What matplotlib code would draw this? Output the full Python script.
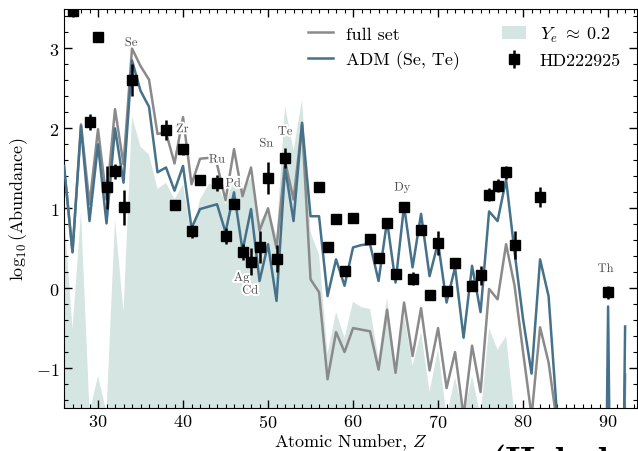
import numpy as np
import matplotlib
matplotlib.use("Agg")
import matplotlib.pyplot as plt
import matplotlib.patheffects as pe
from matplotlib.ticker import MultipleLocator

plt.rcParams['font.family'] = 'serif'
plt.rcParams['font.serif'] = ['cmr10']
plt.rcParams['mathtext.fontset'] = 'cm'
plt.rcParams['axes.formatter.use_mathtext'] = True
plt.rcParams['axes.unicode_minus'] = True

# ---------------- data ----------------
Z = list(range(26, 93))

adm = [1.53, 0.45, 2.03, 0.84, 1.80, 0.81, 2.00, 1.32, 2.85, 2.47,
       2.27, 1.45, 1.51, 1.22, 1.53, 0.75, 0.99, 1.02, 1.05, 0.70,
       1.20, 0.47, 0.99, 0.09, 0.55, -0.16, 1.51, 0.84, 2.07, 0.90,
       0.90, -0.10, 0.36, 0.03, 0.51, 0.54, 0.55, 0.09, 0.84, 0.07,
       1.03, 0.26, 0.93, 0.15, 0.57, -0.18, 0.26, -0.62, 0.28, -0.30,
       0.96, 0.84, 1.36, 0.45, -0.39, -1.07, 0.36, -0.10, -1.60, -10.0,
       -10.0, -10.0, -10.0, -10.0, -0.23, -10.0, -0.48]

full_set = [1.53, 0.45, 2.05, 1.05, 1.99, 1.11, 2.24, 1.55, 3.00, 2.78,
            2.61, 1.93, 1.95, 1.56, 2.14, 1.30, 1.62, 1.63, 1.55, 1.10,
            1.74, 1.15, 1.51, 0.72, 1.00, 0.50, 1.59, 1.11, 2.05, 0.11,
            -0.05, -1.14, -0.55, -0.80, -0.50, -0.52, -0.54, -1.02, -0.27, -1.06,
            -0.18, -0.85, -0.25, -1.03, -0.50, -1.25, -0.80, -1.60, -0.72, -1.30,
            -0.01, -0.14, 0.55, 0.03, -0.80, -1.60, -0.49, -0.93, -1.70, -10.0,
            -10.0, -10.0, -10.0, -10.0, -10.0, -10.0, -1.08]

ye02 = [0.95, -0.51, 0.95, -1.55, -1.10, -1.55, 0.86, -0.30, 2.15, 1.77,
        1.67, 1.24, 1.32, 1.11, 1.30, 0.63, 1.11, 1.30, 1.32, 1.05,
        1.37, 1.22, 1.38, 0.82, 0.99, 0.65, 2.28, 1.72, 2.36, 0.70,
        0.42, -0.82, -0.30, -0.62, -0.17, -0.24, -0.26, -0.88, -0.12, -1.00,
        -0.35, -0.97, -0.55, -1.30, -0.76, -1.60, -1.12, -1.60, -1.10, -1.60,
        -0.50, -0.77, -0.60, -1.60, -10.0, -10.0, -10.0, -10.0, -10.0, -10.0,
        -10.0, -10.0, -10.0, -10.0, -10.0, -10.0, -10.0]

obs_Z = [27, 29, 30, 31, 32, 33, 34, 38, 39, 40, 41, 42, 44, 45, 46, 47, 48,
         49, 50, 51, 52, 56, 57, 58, 59, 60, 62, 63, 64, 65, 66, 67, 68, 69,
         70, 71, 72, 74, 75, 76, 77, 78, 79, 82, 90]
obs_val = [3.47, 2.08, 3.14, 1.26, 1.46, 1.01, 2.61, 1.98, 1.04, 1.74, 0.71,
           1.35, 1.32, 0.65, 1.05, 0.45, 0.33, 0.51, 1.38, 0.37, 1.63, 1.26,
           0.51, 0.86, 0.22, 0.88, 0.62, 0.38, 0.82, 0.18, 1.01, 0.12, 0.73,
           -0.09, 0.56, -0.03, 0.32, 0.03, 0.16, 1.17, 1.28, 1.45, 0.54, 1.14,
           -0.05]
obs_err = [0.08, 0.10, 0.03, 0.27, 0.10, 0.22, 0.20, 0.12, 0.05, 0.07, 0.08,
           0.05, 0.10, 0.10, 0.05, 0.10, 0.17, 0.20, 0.20, 0.17, 0.13, 0.03,
           0.05, 0.05, 0.06, 0.06, 0.05, 0.06, 0.05, 0.06, 0.06, 0.08, 0.05,
           0.04, 0.15, 0.05, 0.05, 0.07, 0.12, 0.08, 0.08, 0.08, 0.18, 0.12,
           0.08]

elem_names = ['Se', 'Zr', 'Ru', 'Pd', 'Sn', 'Te', 'Ag', 'Cd', 'Dy', 'Th']
elem_x = [33.9, 39.9, 44.0, 45.9, 49.8, 52.0, 46.9, 47.9, 65.8, 89.7]
elem_y = [3.07, 1.99, 1.61, 1.31, 1.81, 1.96, 0.13, -0.03, 1.26, 0.24]

# ---------------- figure ----------------
fig = plt.figure(figsize=(6.38, 4.52), dpi=100)
ax = fig.add_axes([64 / 638, 43 / 452, 573 / 638, 399.5 / 452])

c_gray = '#8a8a8a'
c_blue = '#45718a'
c_fill = '#d5e5e1'

ye_label = r'$Y_e\;\approx\;0.2$'
ax.fill_between(Z, ye02, -10, color=c_fill, lw=0, zorder=1, label=ye_label)
ax.plot(Z, full_set, color=c_gray, lw=1.8, zorder=2, label='full set')
ax.plot(Z, adm, color=c_blue, lw=1.8, zorder=3, label='ADM (Se, Te)')

for name, x, y in zip(elem_names, elem_x, elem_y):
    ax.text(x, y, name, fontsize=9, color='0.3', ha='center', va='center',
            zorder=4,
            path_effects=[pe.withStroke(linewidth=3, foreground='white')])

ax.errorbar(obs_Z, obs_val, yerr=obs_err, fmt='s', color='black', ms=6.5,
            elinewidth=1.8, capsize=0, zorder=5, label='HD222925')

ax.set_xlim(26, 93.4)
ax.set_ylim(-1.5, 3.5)
ax.xaxis.set_major_locator(MultipleLocator(10))
ax.xaxis.set_minor_locator(MultipleLocator(1))
ax.yaxis.set_major_locator(MultipleLocator(1))
ax.yaxis.set_minor_locator(MultipleLocator(0.2))
ax.tick_params(which='both', direction='in', top=True, right=True,
               labelsize=13)
ax.tick_params(which='major', length=6, width=1)
ax.tick_params(which='minor', length=3, width=0.8)

ax.set_xlabel(r'Atomic Number, $Z$', fontsize=13, labelpad=1)
ax.set_ylabel(r'$\log_{10}$(Abundance)', fontsize=13, labelpad=4)

h, l = ax.get_legend_handles_labels()
order = [l.index('full set'), l.index('ADM (Se, Te)'),
         l.index(ye_label), l.index('HD222925')]
ax.legend([h[i] for i in order], [l[i] for i in order], ncol=2,
          loc='upper right', frameon=False, fontsize=13, handlelength=1.35,
          handletextpad=0.75, columnspacing=2.3, labelspacing=0.5,
          borderaxespad=0.5, bbox_to_anchor=(1.0, 1.0))

fig.text(490 / 638, -22 / 452, '(Holmbeck', fontfamily='cmb10', fontsize=28,
         ha='left', va='baseline')

fig.savefig('out.png', dpi=100)
